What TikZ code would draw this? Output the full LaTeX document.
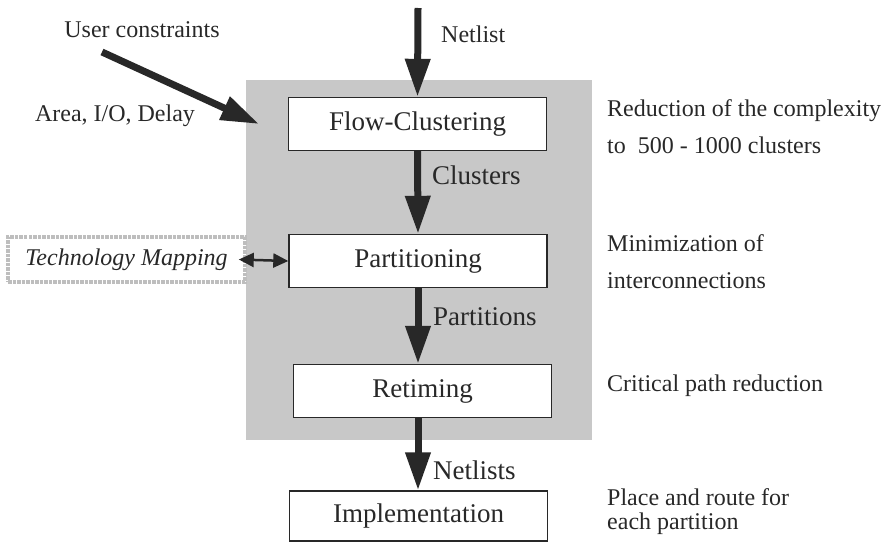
\documentclass[tikz,border=0pt]{standalone}
\usepackage{fontspec}
\setmainfont{Liberation Serif}
\usetikzlibrary{arrows.meta,calc}
\definecolor{ink}{RGB}{40,40,40}
\definecolor{panel}{RGB}{200,200,200}
\definecolor{techborder}{RGB}{190,190,190}
\tikzset{
  stage/.style={draw=ink, line width=1.4pt, fill=white, minimum width=258pt, minimum height=53pt, inner sep=0pt, text=ink, font=\fontsize{27}{30}\selectfont},
  biglabel/.style={text=ink, font=\fontsize{27}{30}\selectfont, inner sep=0pt, anchor=west},
  note/.style={text=ink, font=\fontsize{24}{37}\selectfont, inner sep=0pt, align=left},
  flowarrow/.style={draw=ink, line width=7pt, -{Triangle[length=38pt,width=24pt]}, shorten >=0pt},
  dblarrow/.style={draw=ink, line width=2.5pt, {Triangle[length=15pt,width=14pt]}-{Triangle[length=15pt,width=14pt]}},
}
\begin{document}
\begin{tikzpicture}[x=1pt,y=-1pt]
\useasboundingbox (0,0) rectangle (885,543);
% gray panel
\fill[panel] (246,80) rectangle (592,440);
% stages
\node[stage] (flow) at (417.5,124) {Flow-Clustering};
\node[stage] (part) at (418,261) {Partitioning};
\node[stage] (ret) at (422.5,391) {Retiming};
\node[stage, minimum height=50pt] (impl) at (418.5,516) {Implementation};
% technology mapping
\node[draw=techborder, line width=3.5pt, densely dotted, fill=white, minimum width=237pt, minimum height=45pt, inner sep=0pt,
      text=ink, font=\fontsize{24}{28}\selectfont\itshape] (tech) at (126.5,259.5) {Technology Mapping};
% inputs
\coordinate (netin) at (418,8);
\coordinate (ucstart) at (102,52);
\coordinate (ucend) at (259,124);
\draw[flowarrow] (netin) -- (flow.north);
\draw[flowarrow] (ucstart) -- (ucend);
\draw[flowarrow] (flow.south) -- (part.north);
\draw[flowarrow] (part.south) -- (part.south |- ret.north);
\draw[flowarrow] (ret.south -| part.south) -- (impl.north -| part.south);
\draw[dblarrow] ([xshift=-8pt]tech.east) -- (part.west);
% labels
\node[text=ink, font=\fontsize{24}{28}\selectfont, inner sep=0pt] (uc) at (142,30) {User constraints};
\node[text=ink, font=\fontsize{24}{28}\selectfont, inner sep=0pt] (aid) at (115,116) {Area, I/O, Delay};
\node[text=ink, font=\fontsize{24}{28}\selectfont, inner sep=0pt, anchor=west] (netl) at (441,34) {Netlist};
\node[biglabel] (clu) at (432,175) {Clusters};
\node[biglabel] (parts) at (433,317) {Partitions};
\node[biglabel] (nets) at (433,470) {Netlists};
% notes
\node[note, anchor=west] (n1) at (607,127) {Reduction of the complexity\\to\ \ 500 - 1000 clusters};
\node[note, anchor=west] (n2) at (607,262) {Minimization of\\interconnections};
\node[note, anchor=west] (n3) at (607,386) {Critical path reduction};
\node[note, anchor=west, font=\fontsize{24}{24}\selectfont] (n4) at (607,512) {Place and route for\\each partition};
\end{tikzpicture}
\end{document}
